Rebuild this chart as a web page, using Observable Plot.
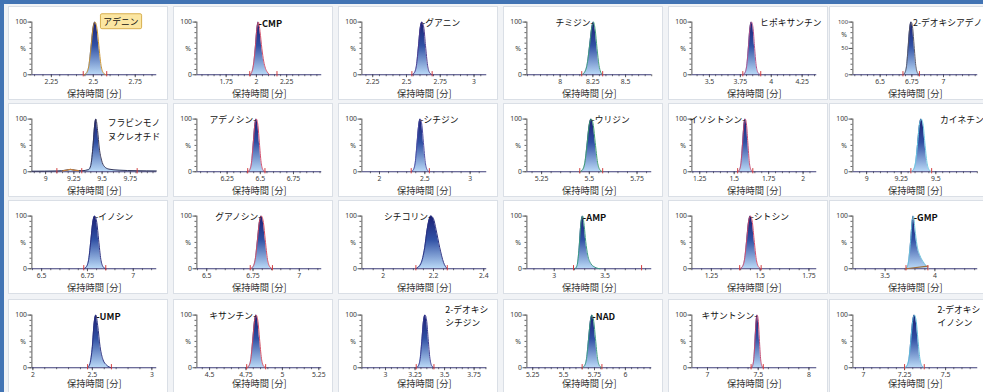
<!DOCTYPE html>
<html><head><meta charset="utf-8">
<script src="https://cdn.jsdelivr.net/npm/d3@7"></script>
<script src="https://cdn.jsdelivr.net/npm/@observablehq/plot@0.6"></script>
<style>
body{margin:0;background:#fff;}
#root{position:relative;width:983px;height:392px;overflow:hidden;background:#f1f3f6;}
.frameTop{position:absolute;left:0;top:0;width:983px;height:4px;background:#4274b4;}
.frameLeft{position:absolute;left:0;top:0;width:4px;height:392px;background:#4274b4;}
.panel{position:absolute;width:160px;height:94px;background:#fff;border:1px solid #dadfe6;box-sizing:border-box;overflow:hidden;}
.panel svg{position:absolute;left:-1px;top:-1px;}
</style></head>
<body><div id="root"><div class="frameTop"></div><div class="frameLeft"></div></div>
<script>
// ---- data ----
const compounds = ["アデニン","CMP","グアニン","チミジン","ヒポキサンチン","2-デオキシアデノシン",
  "フラビンモノ\nヌクレオチド","アデノシン","シチジン","ウリジン","イソシトシン","カイネチン",
  "イノシン","グアノシン","シチコリン","AMP","シトシン","GMP",
  "UMP","キサンチン","2-デオキシ\nシチジン","NAD","キサントシン","2-デオキシ\nイノシン"];
const xAxisTitle = "保持時間 [分]";
const xDomains = [[2.134,2.878],[1.508,2.54],[2.17,3.094],[7.746,8.70],[3.358,4.368],[6.285,7.27],
  [8.879,9.983],[6.022,6.963],[1.806,3.183],[5.173,5.827],[1.193,2.099],[8.901,9.803],
  [6.447,7.128],[6.447,7.121],[1.915,2.412],[2.731,3.96],[1.15,1.79],[3.176,4.431],
  [1.992,3.041],[4.413,5.27],[2.80,3.857],[5.203,6.213],[6.846,8.077],[6.935,7.696]];
const xTicks = [[2.25,2.5,2.75],[1.75,2,2.25],[2.25,2.5,2.75,3],[8,8.25,8.5],[3.5,3.75,4,4.25],[6.5,6.75,7],
  [9,9.25,9.5,9.75],[6.25,6.5,6.75],[2,2.5,3],[5.25,5.5,5.75],[1.25,1.5,1.75,2],[9,9.25,9.5],
  [6.5,6.75,7],[6.5,6.75,7],[2,2.2,2.4],[3,3.5],[1.25,1.5,1.75],[3.5,4],
  [2,2.5,3],[4.5,4.75,5,5.25],[3,3.25,3.5,3.75],[5.25,5.5,5.75,6],[7,7.5,8],[7,7.25,7.5]];
const peakTimes = [
  [2.445,2.461,2.474,2.487,2.498,2.51,2.522,2.533,2.546,2.559,2.575],
  [1.945,1.96,1.975,1.99,2.004,2.016,2.03,2.045,2.06,2.075,2.09,2.11],
  [2.54,2.559,2.574,2.589,2.601,2.615,2.629,2.641,2.656,2.671,2.69],
  [8.165,8.185,8.205,8.225,8.242,8.255,8.268,8.282,8.297,8.31,8.325],
  [3.77,3.788,3.802,3.816,3.827,3.84,3.853,3.864,3.878,3.893,3.915],
  [6.68,6.696,6.709,6.722,6.733,6.745,6.757,6.768,6.781,6.794,6.81],
  [8.88,9.10,9.18,9.22,9.26,9.32,9.38,9.40,9.42,9.435,9.445,9.46,9.475,9.495,9.52,9.56,9.65,9.80,9.98],
  [6.405,6.421,6.434,6.447,6.458,6.47,6.482,6.493,6.506,6.519,6.535],
  [2.35,2.375,2.395,2.415,2.432,2.45,2.468,2.485,2.505,2.525,2.55],
  [5.45,5.465,5.477,5.489,5.499,5.51,5.521,5.531,5.543,5.555,5.57],
  [1.525,1.539,1.55,1.561,1.57,1.58,1.59,1.599,1.61,1.621,1.635],
  [9.32,9.339,9.354,9.369,9.381,9.395,9.409,9.421,9.436,9.451,9.47],
  [6.73,6.745,6.757,6.769,6.779,6.79,6.801,6.811,6.823,6.835,6.85],
  [6.735,6.75,6.762,6.774,6.784,6.795,6.806,6.816,6.828,6.84,6.855],
  [2.13,2.15,2.165,2.175,2.185,2.19,2.20,2.21,2.225,2.24,2.255],
  [3.205,3.225,3.245,3.262,3.28,3.295,3.31,3.33,3.36,3.40,3.45],
  [1.395,1.409,1.42,1.431,1.44,1.45,1.46,1.469,1.48,1.491,1.505],
  [3.71,3.73,3.755,3.775,3.785,3.80,3.82,3.85,3.88,3.91,3.94],
  [2.46,2.48,2.50,2.515,2.53,2.545,2.565,2.59,2.62,2.66],
  [4.755,4.771,4.784,4.797,4.808,4.82,4.832,4.843,4.856,4.869,4.885],
  [3.26,3.279,3.294,3.309,3.321,3.335,3.349,3.361,3.376,3.391,3.41],
  [5.65,5.67,5.686,5.702,5.716,5.73,5.744,5.758,5.774,5.79,5.81],
  [7.43,7.445,7.457,7.469,7.479,7.49,7.501,7.511,7.523,7.535,7.55],
  [7.25,7.265,7.277,7.289,7.299,7.31,7.321,7.331,7.343,7.355,7.37]];
const peakValues = [
  [0,4,18,55,88,100,88,55,18,4,0],
  [0,4,18,50,88,100,82,50,26,12,5,0],
  [0,4,18,55,88,100,88,55,18,4,0],
  [0,4,18,55,90,100,85,50,18,5,0],
  [0,4,18,55,88,100,88,55,18,4,0],
  [0,4,18,55,88,100,88,55,18,4,0],
  [1,1.5,3,4.5,3,2,4,12,50,90,100,78,45,22,10,5,3,2,1.5],
  [0,4,18,55,88,100,88,55,18,4,0],
  [0,4,18,55,88,100,88,55,18,4,0],
  [0,4,18,55,88,100,88,55,18,4,0],
  [0,4,18,55,88,100,88,55,18,4,0],
  [0,4,18,55,88,100,88,55,18,4,0],
  [0,4,18,55,88,100,88,55,18,4,0],
  [0,4,18,55,88,100,88,55,18,4,0],
  [0,10,40,75,97,100,95,75,40,12,0],
  [0,6,40,85,100,82,52,26,10,3,0],
  [0,4,18,55,88,100,88,55,18,4,0],
  [0,8,50,95,100,75,45,25,14,6,0],
  [0,8,40,85,100,80,40,15,5,0],
  [0,4,18,55,88,100,88,55,18,4,0],
  [0,4,18,55,88,100,88,55,18,4,0],
  [0,4,18,55,88,100,88,55,18,4,0],
  [0,4,18,55,88,100,88,55,18,4,0],
  [0,4,18,55,88,100,88,55,18,4,0]];
const markerTimes = [[2.44,2.58],[1.945,2.17],[2.54,2.69],[8.165,8.325],[3.77,3.915],[6.68,6.81],
  [9.1,9.32,9.81],[6.405,6.535],[2.35,2.55],[5.45,5.57],[1.525,1.635],[9.32,9.47],
  [6.73,6.85],[6.735,6.855],[2.13,2.255],[3.19,3.86],[1.395,1.505],[3.71,3.93],
  [2.46,2.66],[4.755,4.885],[3.26,3.41],[5.65,5.81],[7.43,7.55],[7.25,7.37]];
// small secondary traces: FMN side bump, GMP integration drop line
const bumpPanel = [6, 17];
const bumpTimes = [[9.15,9.19,9.22,9.25,9.29],[3.71,3.93]];
const bumpValues = [[1.5,3,4.5,3,2],[0,5]];
// label anchor: [time, percent, side]
const labelSpec = [[2.56,103,"free"],[2.018,100,"right"],[2.617,100,"right"],[8.255,100,"left"],[3.91,100,"free"],[6.76,100,"free"],
  [9.55,82,"free"],[6.47,100,"left"],[2.452,100,"right"],[5.512,100,"right"],[1.58,100,"left"],[9.53,100,"free"],
  [6.792,100,"right"],[6.795,100,"left"],[2.19,100,"left"],[3.282,100,"right"],[1.452,100,"right"],[3.787,100,"right"],
  [2.532,100,"right"],[4.82,100,"left"],[3.506,99,"free"],[5.732,100,"right"],[7.49,100,"left"],[7.45,99,"free"]];
// ---- styles / layout ----
const outlineColors = ["#c7902e","#d2506a","#4b3a8c","#3f9a7a","#b0508a","#555566",
  "#333355","#d04a6a","#4a4aa0","#3a9a6a","#c04870","#6ac8e0",
  "#2a2f80","#d04a60","#2a2f80","#3a9a80","#d04a6a","#6ac0d8",
  "#2a3080","#d04a60","#3a3a90","#3a9a80","#c04870","#5ab8d8"];
const bumpColors = ["#c8803a", "#a0703a"];
const colLefts = [8,173,338,503,668,829];
const rowTops = [6,103,200,299];
const titleOffset = [20,20,20,17];
const root = document.getElementById("root");
const ns = "http://www.w3.org/2000/svg";

compounds.forEach((name, i) => {
  const col = i % 6, row = Math.floor(i / 6);
  const [x0, x1] = xDomains[i];
  const major = xTicks[i];
  const ms = (major[1] - major[0]) / 5;
  const minor = d3.range(Math.ceil(x0 / ms - 1e-9), Math.floor(x1 / ms + 1e-9) + 1).map(k => +(k * ms).toFixed(4));
  const pts = peakTimes[i].map((t, j) => ({t, v: peakValues[i][j]}));
  const bi = bumpPanel.indexOf(i);
  const bump = bi >= 0 ? bumpTimes[bi].map((t, j) => ({t, v: bumpValues[bi][j]})) : [];
  const gid = "grad" + i;
  const yT = i === 5 ? [0, 50, 100] : [0, 100];
  const pctAt = i === 5 ? 75 : 50;
  const [lt, lp, side] = labelSpec[i];
  const labelText = side === "right" ? "-" + name : side === "left" ? name + "-" : name;
  const latin = /^[A-Z]/.test(name);
  const div = document.createElement("div");
  div.className = "panel";
  div.style.left = colLefts[col] + "px";
  div.style.top = rowTops[row] + "px";
  root.appendChild(div);
  const svg = Plot.plot({
    width: 162, height: 96,
    marginLeft: 24, marginRight: 10, marginTop: 16, marginBottom: 26,
    x: {domain: [x0, x1], label: null},
    y: {domain: [0, 100], label: null},
    style: {fontFamily: "'Noto Sans','Noto Sans CJK JP',sans-serif", fontSize: "7px", color: "#3a3a3a", background: "transparent", overflow: "visible"},
    marks: [
      Plot.axisY({ticks: d3.range(0, 101, 10), tickSize: 2, fill: "none", label: null, stroke: "#666"}),
      Plot.axisY({ticks: yT, tickSize: 4, tickPadding: 1, label: null, stroke: "#555", fill: "#3a3a3a", fontSize: i === 5 ? 6 : 7}),
      Plot.axisY({ticks: [pctAt], tickSize: 0, tickPadding: 6, tickFormat: () => "%", label: null, fill: "#3a3a3a"}),
      Plot.axisX({ticks: minor, tickSize: 2, fill: "none", label: null, stroke: "#666"}),
      Plot.axisX({ticks: major, tickSize: 3, tickPadding: 2, tickFormat: d => String(d), label: null, stroke: "#555", fill: "#3a3a3a"}),
      Plot.text([xAxisTitle], {frameAnchor: "bottom", dy: titleOffset[row], lineAnchor: "middle", fontSize: 9.5, fontFamily: "'Noto Sans CJK JP',sans-serif", fill: "#333"}),
      Plot.areaY(pts, {x: "t", y: "v", fill: `url(#${gid})`, curve: "monotone-x"}),
      Plot.ruleY([0], {stroke: "#3d3d78", strokeWidth: 1.2}),
      Plot.ruleX([x0], {y1: 0, y2: 100, stroke: "#555"}),
      Plot.line(pts, {x: "t", y: "v", stroke: outlineColors[i], strokeWidth: 1, curve: "monotone-x"}),
      Plot.line(bump, {x: "t", y: "v", stroke: bi >= 0 ? bumpColors[bi] : "none", strokeWidth: 1.2, curve: "monotone-x"}),
      Plot.ruleX(markerTimes[i], {x: d => d, y1: -4, y2: 6, stroke: "#d23a3a", strokeWidth: 1}),
      Plot.text([{t: lt, v: lp, s: labelText}], {
        x: "t", y: "v", text: "s",
        textAnchor: side === "left" ? "end" : "start",
        lineAnchor: "middle", lineHeight: i === 6 ? 1.65 : 1.5,
        fontSize: latin ? 9.5 : 9, fontWeight: latin ? "bold" : "normal",
        fontFamily: "'Noto Sans CJK JP',sans-serif", fill: "#111"
      })
    ]
  });
  // gradient definition for the peak fill
  const defs = document.createElementNS(ns, "defs");
  defs.innerHTML = `<linearGradient id="${gid}" x1="0" y1="0" x2="0" y2="1">
    <stop offset="0" stop-color="#1a1f73"/><stop offset="0.45" stop-color="#3050a4"/><stop offset="1" stop-color="#b9d8f6"/></linearGradient>`;
  svg.insertBefore(defs, svg.firstChild);
  div.appendChild(svg);
  if (i === 0) {
    const t = [...svg.querySelectorAll("text")].find(e => e.textContent === name);
    if (t) {
      const b = t.getBBox();
      const r = document.createElementNS(ns, "rect");
      r.setAttribute("x", b.x - 3); r.setAttribute("y", b.y - 1);
      r.setAttribute("width", b.width + 6); r.setAttribute("height", b.height + 2);
      r.setAttribute("rx", 1.5);
      r.setAttribute("fill", "#fbe6a2"); r.setAttribute("stroke", "#d6ad4c");
      if (t.getAttribute("transform")) r.setAttribute("transform", t.getAttribute("transform"));
      t.parentNode.insertBefore(r, t);
    }
  }
});
</script>
</body></html>
